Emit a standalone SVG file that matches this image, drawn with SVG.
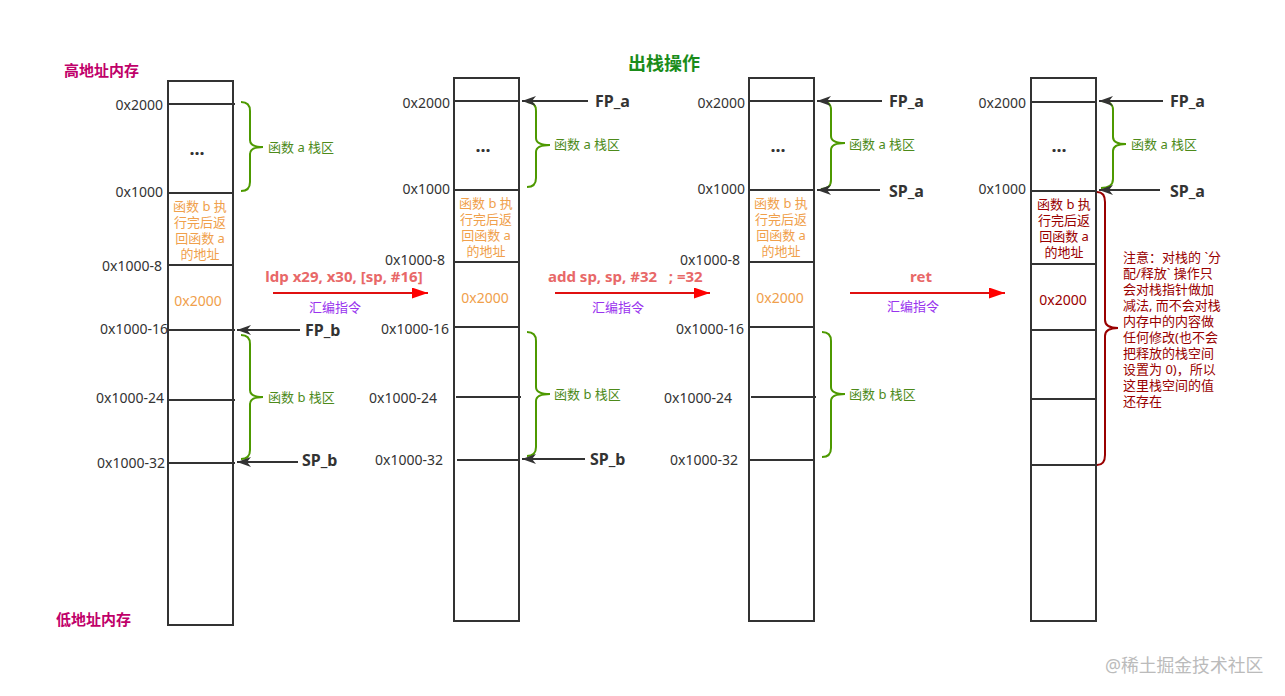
<svg xmlns="http://www.w3.org/2000/svg" width="1285" height="696" viewBox="0 0 1285 696">
<style>
text{font-family:"Noto Sans","Noto Sans CJK SC",sans-serif;dominant-baseline:central}
.box{fill:#fff;stroke:#333;stroke-width:2}
.row{stroke:#333;stroke-width:2}
.addr{font-size:14px;fill:#333;text-anchor:end}
.dots{font-size:18px;font-weight:bold;fill:#333;text-anchor:middle}
.cell{font-size:13px;fill:#F0A04B;text-anchor:middle}
.cellr{font-size:13px;fill:#990000;text-anchor:middle}
.val{font-size:14px}
.brace{fill:none;stroke:#4D9900;stroke-width:2}
.braceR{fill:none;stroke:#990000;stroke-width:2}
.blab{font-size:13px;fill:#4D8A1A}
.ptr{font-size:16px;font-weight:bold;fill:#333}
.darr{stroke:#333;stroke-width:2;marker-end:url(#dark)}
.rarr{stroke:#E01010;stroke-width:2;marker-end:url(#red)}
.ins{font-size:15px;font-weight:bold;fill:#E86868}
.asm{font-size:13px;fill:#9933EE;text-anchor:middle}
.note{font-size:13px;fill:#990000}
.mem{font-size:15px;font-weight:bold;fill:#C0006A}
</style>
<defs>
<marker id="dark" markerUnits="userSpaceOnUse" markerWidth="14" markerHeight="10" refX="14" refY="5" orient="auto"><path d="M0,0 L14,5 L0,10 L4,5 Z" fill="#333"/></marker>
<marker id="red" markerUnits="userSpaceOnUse" markerWidth="16" markerHeight="11" refX="16" refY="5.5" orient="auto"><path d="M0,0 L16,5.5 L0,11 Z" fill="#F00"/></marker>
</defs>
<rect width="1285" height="696" fill="#fff"/>

<g id="labels">
<text class="mem" x="64" y="70">高地址内存</text>
<text class="mem" x="56" y="619">低地址内存</text>
<text x="628" y="63" style="font-size:18px;font-weight:bold;fill:#1A8C1A">出栈操作</text>
<text x="1105" y="665" style="font-size:17.8px;fill:#BBBBBB">@稀土掘金技术社区</text>
</g>

<g id="stack1">
<rect class="box" x="168" y="81" width="65" height="544"/>
<line class="row" x1="169" y1="104" x2="235" y2="104"/>
<line class="row" x1="169" y1="193" x2="233" y2="193"/>
<line class="row" x1="169" y1="265" x2="233" y2="265"/>
<line class="row" x1="169" y1="330" x2="235" y2="330"/>
<line class="row" x1="169" y1="400" x2="235" y2="400"/>
<line class="row" x1="169" y1="463" x2="235" y2="463"/>
<text class="addr" x="163" y="104">0x2000</text>
<text class="addr" x="163" y="191">0x1000</text>
<text class="addr" x="162" y="265">0x1000-8</text>
<text class="addr" x="168" y="328">0x1000-16</text>
<text class="addr" x="164" y="397">0x1000-24</text>
<text class="addr" x="165" y="462">0x1000-32</text>
<text class="dots" x="197" y="148">...</text>
<text class="cell" x="200" y="206">函数 b 执</text>
<text class="cell" x="200" y="222">行完后返</text>
<text class="cell" x="200" y="238">回函数 a</text>
<text class="cell" x="200" y="254">的地址</text>
<text class="cell val" x="198" y="300">0x2000</text>
<path class="brace" d="M241,102 Q250,102 250,111 L250,140 Q250,147 263,147 Q250,147 250,154 L250,182 Q250,191 241,191"/>
<text class="blab" x="268" y="147">函数 a 栈区</text>
<path class="brace" d="M241,335 Q250,335 250,344 L250,390 Q250,397 263,397 Q250,397 250,404 L250,450 Q250,459 241,459"/>
<text class="blab" x="268" y="397">函数 b 栈区</text>
<text class="ptr" x="305" y="330">FP_b</text>
<text class="ptr" x="302" y="460">SP_b</text>
</g>

<g id="stack2">
<rect class="box" x="454" y="78" width="65" height="543"/>
<line class="row" x1="455" y1="101" x2="519" y2="101"/>
<line class="row" x1="455" y1="190" x2="519" y2="190"/>
<line class="row" x1="455" y1="262" x2="519" y2="262"/>
<line class="row" x1="455" y1="327" x2="519" y2="327"/>
<line class="row" x1="456" y1="397" x2="521" y2="397"/>
<line class="row" x1="457" y1="460" x2="520" y2="460"/>
<text class="addr" x="450" y="102">0x2000</text>
<text class="addr" x="450" y="188">0x1000</text>
<text class="addr" x="445" y="259">0x1000-8</text>
<text class="addr" x="449" y="328">0x1000-16</text>
<text class="addr" x="437" y="397">0x1000-24</text>
<text class="addr" x="443" y="459">0x1000-32</text>
<text class="dots" x="483" y="145">...</text>
<text class="cell" x="486" y="203">函数 b 执</text>
<text class="cell" x="486" y="219">行完后返</text>
<text class="cell" x="486" y="235">回函数 a</text>
<text class="cell" x="486" y="251">的地址</text>
<text class="cell val" x="485" y="297">0x2000</text>
<path class="brace" d="M527,102 Q536,102 536,111 L536,138 Q536,145 550,145 Q536,145 536,152 L536,178 Q536,187 527,187"/>
<text class="blab" x="554" y="144">函数 a 栈区</text>
<path class="brace" d="M527,332 Q536,332 536,341 L536,387 Q536,394 550,394 Q536,394 536,401 L536,447 Q536,456 527,456"/>
<text class="blab" x="554" y="394">函数 b 栈区</text>
<text class="ptr" x="595" y="101">FP_a</text>
<text class="ptr" x="590" y="459">SP_b</text>
</g>

<g id="stack3">
<rect class="box" x="749" y="78" width="65" height="543"/>
<line class="row" x1="750" y1="101" x2="814" y2="101"/>
<line class="row" x1="750" y1="190" x2="814" y2="190"/>
<line class="row" x1="750" y1="262" x2="814" y2="262"/>
<line class="row" x1="750" y1="327" x2="814" y2="327"/>
<line class="row" x1="751" y1="397" x2="816" y2="397"/>
<line class="row" x1="750" y1="460" x2="814" y2="460"/>
<text class="addr" x="745" y="102">0x2000</text>
<text class="addr" x="745" y="188">0x1000</text>
<text class="addr" x="740" y="259">0x1000-8</text>
<text class="addr" x="744" y="328">0x1000-16</text>
<text class="addr" x="732" y="397">0x1000-24</text>
<text class="addr" x="738" y="459">0x1000-32</text>
<text class="dots" x="778" y="145">...</text>
<text class="cell" x="781" y="203">函数 b 执</text>
<text class="cell" x="781" y="219">行完后返</text>
<text class="cell" x="781" y="235">回函数 a</text>
<text class="cell" x="781" y="251">的地址</text>
<text class="cell val" x="780" y="297">0x2000</text>
<path class="brace" d="M821,101 Q831,101 831,110 L831,136 Q831,143 845,143 Q831,143 831,150 L831,180 Q831,189 821,189"/>
<text class="blab" x="849" y="144">函数 a 栈区</text>
<path class="brace" d="M822,332 Q831,332 831,341 L831,387 Q831,394 845,394 Q831,394 831,401 L831,448 Q831,457 822,457"/>
<text class="blab" x="849" y="394">函数 b 栈区</text>
<text class="ptr" x="889" y="101">FP_a</text>
<text class="ptr" x="889" y="191">SP_a</text>
</g>

<g id="stack4">
<rect class="box" x="1031" y="78" width="65" height="543"/>
<line class="row" x1="1032" y1="102" x2="1096" y2="102"/>
<line class="row" x1="1032" y1="191" x2="1096" y2="191"/>
<line class="row" x1="1032" y1="264" x2="1096" y2="264"/>
<line class="row" x1="1032" y1="330" x2="1096" y2="330"/>
<line class="row" x1="1032" y1="399" x2="1096" y2="399"/>
<line class="row" x1="1032" y1="465" x2="1096" y2="465"/>
<text class="addr" x="1026" y="102">0x2000</text>
<text class="addr" x="1026" y="188">0x1000</text>
<text class="dots" x="1059" y="145">...</text>
<text class="cellr" x="1064" y="204">函数 b 执</text>
<text class="cellr" x="1064" y="220">行完后返</text>
<text class="cellr" x="1064" y="236">回函数 a</text>
<text class="cellr" x="1064" y="252">的地址</text>
<text class="cellr val" x="1063" y="299">0x2000</text>
<path class="brace" d="M1101,101 Q1113,101 1113,110 L1113,137 Q1113,144 1126,144 Q1113,144 1113,151 L1113,179 Q1113,188 1101,188"/>
<text class="blab" x="1131" y="144">函数 a 栈区</text>
<path class="braceR" d="M1097,192 Q1105,192 1105,202 L1105,320 Q1105,328 1118,328 Q1105,328 1105,336 L1105,455 Q1105,465 1097,465"/>
<text class="note" x="1123" y="257">注意：对栈的 `分</text>
<text class="note" x="1123" y="273">配/释放` 操作只</text>
<text class="note" x="1123" y="289">会对栈指针做加</text>
<text class="note" x="1123" y="305">减法, 而不会对栈</text>
<text class="note" x="1123" y="321">内存中的内容做</text>
<text class="note" x="1123" y="337">任何修改(也不会</text>
<text class="note" x="1123" y="353">把释放的栈空间</text>
<text class="note" x="1123" y="369">设置为 0)，所以</text>
<text class="note" x="1123" y="385">这里栈空间的值</text>
<text class="note" x="1123" y="401">还存在</text>
<text class="ptr" x="1170" y="101">FP_a</text>
<text class="ptr" x="1170" y="191">SP_a</text>
</g>

<g id="steps">
<text class="ins" x="344" y="276" text-anchor="middle">ldp x29, x30, [sp, #16]</text>
<text class="asm" x="335" y="307">汇编指令</text>
<text class="ins" x="548" y="276" xml:space="preserve">add sp, sp, #32   ; =32</text>
<text class="asm" x="618" y="307">汇编指令</text>
<text class="ins" x="921" y="276" text-anchor="middle">ret</text>
<text class="asm" x="913" y="306">汇编指令</text>
</g>

<g id="connectors">
<line class="darr" x1="300" y1="330" x2="237" y2="330"/>
<line class="darr" x1="298" y1="462" x2="237" y2="462"/>
<line class="darr" x1="588" y1="101" x2="522" y2="101"/>
<line class="darr" x1="585" y1="459" x2="522" y2="459"/>
<line class="darr" x1="882" y1="101" x2="817" y2="101"/>
<line class="darr" x1="880" y1="190" x2="817" y2="190"/>
<line class="darr" x1="1163" y1="101" x2="1099" y2="101"/>
<line class="darr" x1="1160" y1="190" x2="1099" y2="190"/>
<line class="rarr" x1="273" y1="293" x2="428" y2="293"/>
<line class="rarr" x1="555" y1="293" x2="710" y2="293"/>
<line class="rarr" x1="850" y1="293" x2="1005" y2="293"/>
</g>
</svg>
